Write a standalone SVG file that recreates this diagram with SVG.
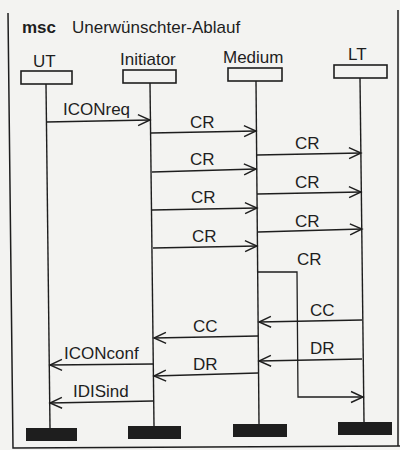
<svg xmlns="http://www.w3.org/2000/svg" width="400" height="450" viewBox="0 0 400 450">
<style>
text{font-family:"Liberation Sans",Arial,sans-serif;font-size:17px;fill:#1e1e1e}
.t{font-weight:bold}
.box{fill:#f3f3f1;stroke:#1e1e1e;stroke-width:1.6}
.life{stroke:#1e1e1e;stroke-width:1.4;fill:none}
.end{fill:#1e1e1e}
.msg{stroke:#1e1e1e;stroke-width:1.3;fill:none;marker-end:url(#ah)}
.frame{stroke:#1e1e1e;stroke-width:1.5;fill:none}
</style>
<defs>
<marker id="ah" viewBox="-14 -7 16 14" markerWidth="16" markerHeight="14" refX="0" refY="0" markerUnits="userSpaceOnUse" orient="auto">
<path d="M-12,-5.5 L0,0 L-12,5.5" fill="none" stroke="#1e1e1e" stroke-width="1.4"/>
</marker>
</defs>
<rect x="0" y="0" width="400" height="450" fill="#f3f3f1"/>
<g id="frame">
<path class="frame" d="M8,13 L13,448 L400,446"/>
<path class="frame" d="M398,10 L398,446"/>
<text x="22" y="33" class="t">msc</text>
<text x="72" y="33">Unerwünschter-Ablauf</text>
</g>
<g id="UT">
<text x="33" y="67">UT</text>
<rect class="box" x="21" y="71" width="51" height="13"/>
<line class="life" x1="46" y1="84" x2="50" y2="428"/>
<rect class="end" x="26" y="428" width="51" height="13"/>
</g>
<g id="Initiator">
<text x="120" y="65">Initiator</text>
<rect class="box" x="123" y="70" width="53" height="13"/>
<line class="life" x1="150" y1="83" x2="154" y2="426"/>
<rect class="end" x="128" y="426" width="53" height="13"/>
</g>
<g id="Medium">
<text x="223" y="63">Medium</text>
<rect class="box" x="228" y="68" width="54" height="13"/>
<line class="life" x1="256" y1="81" x2="259" y2="424"/>
<rect class="end" x="233" y="424" width="54" height="13"/>
</g>
<g id="LT">
<text x="348" y="60">LT</text>
<rect class="box" x="334" y="65" width="53" height="13"/>
<line class="life" x1="360" y1="78" x2="364" y2="422"/>
<rect class="end" x="338" y="422" width="54" height="13"/>
</g>
<g id="connectors">
<line class="msg" x1="46" y1="122" x2="150" y2="120"/>
<line class="msg" x1="151" y1="133" x2="256" y2="131"/>
<line class="msg" x1="257" y1="155" x2="361" y2="153"/>
<line class="msg" x1="152" y1="172" x2="256" y2="169"/>
<line class="msg" x1="257" y1="194" x2="361" y2="192"/>
<line class="msg" x1="152" y1="210" x2="257" y2="208"/>
<line class="msg" x1="258" y1="232" x2="362" y2="229"/>
<line class="msg" x1="153" y1="248" x2="257" y2="246"/>
<polyline class="msg" points="258,272 297,272 298,397 363,397"/>
<line class="msg" x1="362" y1="320" x2="259" y2="322"/>
<line class="msg" x1="258" y1="336" x2="154" y2="338"/>
<line class="msg" x1="153" y1="364" x2="50" y2="365"/>
<line class="msg" x1="362" y1="359" x2="259" y2="361"/>
<line class="msg" x1="258" y1="373" x2="154" y2="376"/>
<line class="msg" x1="153" y1="401" x2="50" y2="403"/>
</g>
<g id="labels">
<text x="63" y="115">ICONreq</text>
<text x="190" y="128">CR</text>
<text x="295" y="149">CR</text>
<text x="190" y="165">CR</text>
<text x="295" y="188">CR</text>
<text x="191" y="203">CR</text>
<text x="295" y="227">CR</text>
<text x="192" y="242">CR</text>
<text x="297" y="265">CR</text>
<text x="310" y="316">CC</text>
<text x="193" y="332">CC</text>
<text x="64" y="359">ICONconf</text>
<text x="310" y="354">DR</text>
<text x="193" y="370">DR</text>
<text x="73" y="397">IDISind</text>
</g>
</svg>
